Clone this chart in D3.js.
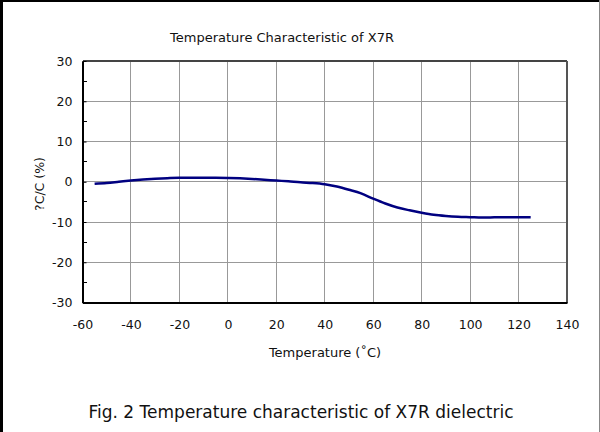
<!DOCTYPE html>
<html>
<head>
<meta charset="utf-8">
<script src="https://cdn.jsdelivr.net/npm/d3@7"></script>
<style>
  body { margin: 0; background: #fff; }
  svg { display: block; font-family: "DejaVu Sans", sans-serif; }
</style>
</head>
<body>
<div id="chart"></div>
<script>
// temperature (degC) and capacitance change (%)
const temps = [-55, -50, -45, -40, -35, -30, -25, -20, -15, -10, -5, 0, 5, 10, 15, 20, 25, 30, 35, 40,
  45, 50, 55, 60, 65, 70, 75, 80, 85, 90, 95, 100, 105, 110, 115, 120, 125];
const dCap = [-0.5, -0.3, 0, 0.3, 0.55, 0.75, 0.9, 1.0, 1.0, 1.0, 1.0, 0.95, 0.85, 0.7, 0.5, 0.3, 0.1, -0.15, -0.3, -0.6,
  -1.2, -2.0, -2.9, -4.2, -5.4, -6.4, -7.1, -7.7, -8.2, -8.5, -8.7, -8.8, -8.9, -8.85, -8.8, -8.8, -8.8];
const xTicks = [-60, -40, -20, 0, 20, 40, 60, 80, 100, 120, 140];
const yTicks = [30, 20, 10, 0, -10, -20, -30];
const yMinorTicks = [25, 15, 5, -5, -15, -25];

const width = 600, height = 432;
const plot = {left: 82.5, right: 567, top: 61, bottom: 302.5};

const svg = d3.select('#chart').append('svg')
  .attr('width', width).attr('height', height);

// outer frame
svg.append('line').attr('x1', 1.5).attr('y1', 0).attr('x2', 1.5).attr('y2', height)
  .attr('stroke', '#000').attr('stroke-width', 3);
svg.append('line').attr('x1', 0).attr('y1', 1).attr('x2', width).attr('y2', 1)
  .attr('stroke', '#000').attr('stroke-width', 2);
svg.append('line').attr('x1', 599.5).attr('y1', 0).attr('x2', 599.5).attr('y2', height)
  .attr('stroke', '#888').attr('stroke-width', 1);

const x = d3.scaleLinear().domain([-60, 140]).range([plot.left, plot.right]);
const y = d3.scaleLinear().domain([-30, 30]).range([plot.bottom, plot.top]);

// grid
const grid = svg.append('g').attr('shape-rendering', 'crispEdges');
grid.selectAll('.vgrid').data(xTicks.slice(1, -1)).enter()
  .append('line')
  .attr('x1', (d) => x(d)).attr('x2', (d) => x(d))
  .attr('y1', plot.top).attr('y2', plot.bottom)
  .attr('stroke', '#999');
grid.selectAll('.hgrid').data(yTicks.slice(1, -1)).enter()
  .append('line')
  .attr('x1', plot.left).attr('x2', plot.right)
  .attr('y1', (d) => y(d)).attr('y2', (d) => y(d))
  .attr('stroke', '#999');

// plot border: top and right grey, left and bottom black
grid.append('line').attr('x1', plot.left).attr('x2', plot.right)
  .attr('y1', plot.top).attr('y2', plot.top).attr('stroke', '#444').attr('stroke-width', 2);
grid.append('line').attr('x1', plot.right).attr('x2', plot.right)
  .attr('y1', plot.top).attr('y2', plot.bottom).attr('stroke', '#555').attr('stroke-width', 2);

// y axis, ticks pointing inwards
const yAxis = d3.axisLeft(y).tickValues(yTicks).tickSizeInner(-4).tickSizeOuter(0).tickPadding(10)
  .tickFormat((d) => String(d));
const gy = svg.append('g')
  .attr('transform', 'translate(' + plot.left + ',0)')
  .call(yAxis);
svg.append('g').selectAll('line').data(yMinorTicks).enter()
  .append('line')
  .attr('x1', plot.left).attr('x2', plot.left + 4)
  .attr('y1', (d) => y(d)).attr('y2', (d) => y(d))
  .attr('stroke', '#000').attr('shape-rendering', 'crispEdges');

// x axis
const xAxis = d3.axisBottom(x).tickValues(xTicks).tickSize(0).tickPadding(18)
  .tickFormat((d) => String(d));
const gx = svg.append('g')
  .attr('transform', 'translate(0,' + plot.bottom + ')')
  .call(xAxis);

[gx, gy].forEach((g) => {
  g.select('.domain').attr('stroke', '#000').attr('stroke-width', 2);
  g.selectAll('.tick text').attr('font-family', '"DejaVu Sans", sans-serif')
    .attr('font-size', 12.5).attr('fill', '#111');
  g.selectAll('.tick line').attr('stroke', '#000');
});

// curve
const line = d3.line()
  .x((d, i) => x(temps[i]))
  .y((d) => y(d))
  .curve(d3.curveMonotoneX);
svg.append('path')
  .datum(dCap)
  .attr('d', line)
  .attr('fill', 'none')
  .attr('stroke', '#000080')
  .attr('stroke-width', 2.5);

// titles
svg.append('text')
  .attr('x', 282).attr('y', 42)
  .attr('text-anchor', 'middle')
  .attr('font-size', 13)
  .attr('fill', '#111')
  .text('Temperature Characteristic of X7R');

svg.append('text')
  .attr('x', 325).attr('y', 357)
  .attr('text-anchor', 'middle')
  .attr('font-size', 13)
  .attr('fill', '#111')
  .text('Temperature (˚C)');

svg.append('text')
  .attr('transform', 'translate(44,184) rotate(-90)')
  .attr('text-anchor', 'middle')
  .attr('font-size', 12.5)
  .attr('fill', '#111')
  .text('?C/C (%)');

svg.append('text')
  .attr('x', 301).attr('y', 418)
  .attr('text-anchor', 'middle')
  .attr('font-size', 17)
  .attr('fill', '#111')
  .text('Fig. 2 Temperature characteristic of X7R dielectric');
</script>
</body>
</html>
